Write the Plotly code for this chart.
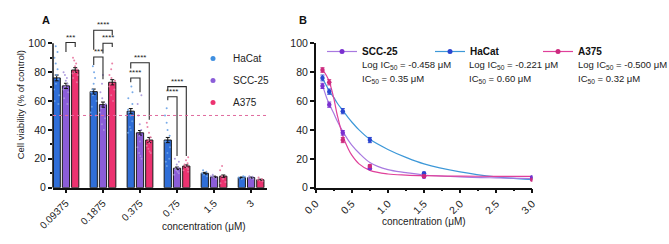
import plotly.graph_objects as go

# ---------------- data ----------------
concentration_labels = ["0.09375", "0.1875", "0.375", "0.75", "1.5", "3"]
concentration_values = [0.09375, 0.1875, 0.375, 0.75, 1.5, 3.0]
cell_lines = ["HaCat", "SCC-25", "A375"]

hacat_mean = [76, 66.5, 53, 33, 10, 7]
scc25_mean = [70.5, 57.5, 38, 13.5, 7.5, 7]
a375_mean = [81.5, 73, 33, 15, 8, 5.5]

hacat_sem = [2.0, 1.8, 1.8, 1.8, 0.6, 0.4]
scc25_sem = [1.8, 1.8, 1.6, 0.8, 0.5, 0.4]
a375_sem = [1.6, 1.8, 1.8, 0.8, 0.8, 0.4]

# individual replicate values
hacat_points = [
    [98, 94, 90, 86, 82, 78, 75, 72, 68, 64, 60, 58],
    [84, 80, 76, 72, 68, 66, 64, 60, 56, 52, 50],
    [70, 66, 62, 58, 54, 52, 50, 46, 42, 38, 40],
    [55, 50, 45, 40, 36, 32, 28, 24, 20, 18, 15],
    [12, 11, 10, 9, 8],
    [8, 7.5, 7, 6.5, 6],
]
scc25_points = [
    [80, 78, 76, 74, 72, 70, 68, 66, 62, 58],
    [78, 72, 66, 62, 58, 55, 52, 48, 44, 40],
    [64, 58, 50, 44, 40, 36, 32, 28, 24, 20, 22],
    [20, 18, 16, 14, 13, 12, 11, 10, 9],
    [9, 8, 7.5, 7, 6],
    [8, 7.5, 7, 6.5, 6],
]
a375_points = [
    [90, 88, 86, 84, 82, 80, 79, 78, 76, 73],
    [86, 82, 78, 76, 74, 72, 70, 68, 64, 60],
    [45, 42, 38, 35, 33, 31, 29, 27, 25, 24],
    [21, 19, 17, 16, 15, 14, 13, 12, 11],
    [15, 12, 8, 6, 4, 3],
    [7, 6, 5.5, 5, 4.5],
]

# significance brackets: (group, bar_from, bar_to, top, left_end, right_end, label)
brackets = [
    (0, 1, 2, 100.5, 94, 97.5, "***"),
    (1, 0, 2, 109, 95.5, 105.5, "****"),
    (1, 1, 2, 100, 93, 97.5, "****"),
    (1, 0, 1, 90.5, 85, 75, "***"),
    (2, 0, 2, 86.5, 82.5, 47, "****"),
    (2, 0, 1, 76, 73, 66, "****"),
    (3, 0, 2, 70, 67.5, 22, "****"),
    (3, 0, 1, 63, 60.5, 22, "****"),
]

# panel B: fitted curves
curve_x = [0.09375, 0.15, 0.1875, 0.25, 0.3, 0.375, 0.45, 0.5, 0.6, 0.75,
           1.0, 1.25, 1.5, 2.0, 2.5, 3.0]
hacat_curve = [76, 70.5, 67, 62.5, 58.5, 53.5, 48.5, 45.5, 40, 33.5,
               26.5, 21, 16.5, 11, 7.5, 5.5]
scc25_curve = [71, 62.5, 58, 51.5, 46, 39, 33, 29.5, 24, 17.5,
               12.5, 10.5, 8.8, 7.5, 6.8, 6.3]
a375_curve = [82, 77.5, 73.5, 62, 50, 36, 27, 22.5, 16.5, 12,
              9.5, 8.7, 8.3, 8.0, 7.9, 7.8]

ic50_text = {
    "SCC-25": ("-0.458", "0.35"),
    "HaCat": ("-0.221", "0.60"),
    "A375": ("-0.500", "0.32"),
}

# ---------------- style ----------------
FONT = "Liberation Sans, Arial, Helvetica, sans-serif"
BAR_COLORS = {"HaCat": "#2f6ed8", "SCC-25": "#8b5dd8", "A375": "#ec3270"}
DOT_COLORS = {"HaCat": "#6aa2e6", "SCC-25": "#a795dc", "A375": "#e8769f"}
LEG_COLORS = {"HaCat": "#3f8fe0", "SCC-25": "#8b5dd8", "A375": "#ec3270"}
PT_COLORS = {"HaCat": "#2a45d0", "SCC-25": "#7a2fd0", "A375": "#cc2a7e"}
CURVE_COLORS = {"HaCat": "#3d98d8", "SCC-25": "#a879e0", "A375": "#e0409a"}
BARGAP = 0.25
BARGROUPGAP = 0.22

W, H = 669, 244
def px_x(p):
    return p / W
def px_y(p):
    return (H - p) / H

fig = go.Figure()

means = {"HaCat": hacat_mean, "SCC-25": scc25_mean, "A375": a375_mean}
sems = {"HaCat": hacat_sem, "SCC-25": scc25_sem, "A375": a375_sem}
points = {"HaCat": hacat_points, "SCC-25": scc25_points, "A375": a375_points}
x_idx = list(range(len(concentration_labels)))

for name in cell_lines:
    fig.add_trace(go.Bar(
        x=x_idx, y=means[name], name=name, showlegend=False,
        marker=dict(color=BAR_COLORS[name], line=dict(color="#1a1a1a", width=1)),
        error_y=dict(type="data", array=sems[name], color="#111", thickness=1, width=2),
        xaxis="x", yaxis="y", hoverinfo="skip",
    ))

for name in cell_lines:
    bx = [i for i, pts in enumerate(points[name]) for _ in pts]
    by = [v for pts in points[name] for v in pts]
    fig.add_trace(go.Box(
        x=bx, y=by, name=name, showlegend=False, boxpoints="all", jitter=0.9,
        pointpos=0, fillcolor="rgba(0,0,0,0)", line=dict(width=0, color="rgba(0,0,0,0)"),
        marker=dict(color=DOT_COLORS[name], size=2, opacity=0.9),
        xaxis="x", yaxis="y", hoverinfo="skip",
    ))

# legend A (marker-only entries)
for name in cell_lines:
    fig.add_trace(go.Scatter(
        x=[None], y=[None], mode="markers", name=name, legend="legend",
        legendgroup=name,
        marker=dict(color=LEG_COLORS[name], size=5), xaxis="x", yaxis="y",
    ))

# panel B
curves = {"HaCat": hacat_curve, "SCC-25": scc25_curve, "A375": a375_curve}
for name in cell_lines:
    fig.add_trace(go.Scatter(
        x=curve_x, y=curves[name], mode="lines", line=dict(color=CURVE_COLORS[name], width=1.2, shape="spline"),
        showlegend=False, xaxis="x2", yaxis="y2", hoverinfo="skip",
    ))
for name in cell_lines:
    fig.add_trace(go.Scatter(
        x=concentration_values, y=means[name], mode="markers",
        marker=dict(color=PT_COLORS[name], size=4.5),
        error_y=dict(type="data", array=sems[name], color=PT_COLORS[name], thickness=1, width=2),
        showlegend=False, xaxis="x2", yaxis="y2", hoverinfo="skip",
    ))
for name in ["SCC-25", "HaCat", "A375"]:
    fig.add_trace(go.Scatter(
        x=[None], y=[None], mode="lines+markers", name=f"<b>{name}</b>", legend="legend2",
        line=dict(color=CURVE_COLORS[name], width=1.2),
        marker=dict(color=PT_COLORS[name], size=5), xaxis="x2", yaxis="y2",
    ))

# ---------------- shapes & annotations ----------------
slot = (1 - BARGAP) / 3
def bar_x(g, k):
    return g + (k - 1) * slot

shapes = []
annotations = []
for g, a, b, top, le, re, lab in brackets:
    x0, x1 = bar_x(g, a), bar_x(g, b)
    shapes.append(dict(type="path", xref="x", yref="y",
                       path=f"M {x0},{le} L {x0},{top} L {x1},{top} L {x1},{re}",
                       line=dict(color="#2a2a2a", width=1.1)))
    annotations.append(dict(x=(x0 + x1) / 2, y=top, xref="x", yref="y", text=lab,
                            showarrow=False, yanchor="bottom", yshift=-1,
                            font=dict(family=FONT, size=8, color="#222")))

# y axis line of panel A (only 0-100)
shapes.append(dict(type="line", xref="x domain", yref="y", x0=0, x1=0, y0=0, y1=100,
                   line=dict(color="#111", width=1.5)))
# 50% reference line
shapes.append(dict(type="line", xref="x domain", yref="y", x0=0, x1=1, y0=50, y1=50,
                   line=dict(color="#e06a9e", width=1, dash="dot")))

annotations.append(dict(x=px_x(40), y=px_y(12), xref="paper", yref="paper", text="<b>A</b>",
                        showarrow=False, font=dict(family=FONT, size=11, color="#111")))
annotations.append(dict(x=px_x(303), y=px_y(12), xref="paper", yref="paper", text="<b>B</b>",
                        showarrow=False, font=dict(family=FONT, size=11, color="#111")))

# x axis titles
annotations.append(dict(x=px_x(160), y=px_y(226), xref="paper", yref="paper",
                        text="concentration (\u03bcM)", showarrow=False, yanchor="middle",
                        font=dict(family=FONT, size=10, color="#222")))
annotations.append(dict(x=px_x(424), y=px_y(221), xref="paper", yref="paper",
                        text="concentration (\u03bcM)", showarrow=False, yanchor="middle",
                        font=dict(family=FONT, size=10, color="#222")))

ic_x = {"SCC-25": 360, "HaCat": 467, "A375": 576}
for name in ["SCC-25", "HaCat", "A375"]:
    lg, ic = ic50_text[name]
    annotations.append(dict(x=px_x(ic_x[name]), y=px_y(65), xref="paper", yref="paper",
                            xanchor="left", yanchor="middle", showarrow=False,
                            text=f"Log IC<sub>50</sub> = {lg} \u03bcM",
                            font=dict(family=FONT, size=9.5, color="#222")))
    annotations.append(dict(x=px_x(ic_x[name]), y=px_y(79), xref="paper", yref="paper",
                            xanchor="left", yanchor="middle", showarrow=False,
                            text=f"IC<sub>50</sub> = {ic} \u03bcM",
                            font=dict(family=FONT, size=9.5, color="#222")))

axis_common = dict(showgrid=False, zeroline=False, ticks="outside", ticklen=4, tickwidth=1.5,
                   tickcolor="#111", linecolor="#111", linewidth=1.5, automargin=False,
                   tickfont=dict(family=FONT, size=10.5, color="#222"))

fig.update_layout(
    width=W, height=H, margin=dict(l=0, r=0, t=0, b=0, autoexpand=False),
    paper_bgcolor="white", plot_bgcolor="white",
    barmode="group", bargap=BARGAP, bargroupgap=BARGROUPGAP,
    boxmode="group", boxgap=BARGAP, boxgroupgap=BARGROUPGAP,
    font=dict(family=FONT, color="#222"),
    xaxis=dict(domain=[px_x(53), px_x(267)], range=[-0.35, 5.43], tickvals=x_idx,
               ticktext=concentration_labels, tickangle=-45, showline=True,
               **{**axis_common, "tickfont": dict(family=FONT, size=10, color="#222")}),
    yaxis=dict(domain=[px_y(187.7), px_y(21.6)], range=[0, 115], tickvals=[0, 20, 40, 60, 80, 100],
               showline=False,
               minor=dict(tickvals=[10, 30, 50, 70, 90], ticklen=2, tickwidth=1.5, tickcolor="#111", ticks="outside"),
               title=dict(text="Cell viability (% of control)", font=dict(family=FONT, size=9.5), standoff=2),
               **axis_common),
    xaxis2=dict(domain=[px_x(315.7), px_x(532.3)], range=[0, 3], tickvals=[0, 0.5, 1, 1.5, 2, 2.5, 3],
                tickformat=".1f", tickangle=-45, showline=True, anchor="y2",
                minor=dict(dtick=0.25, ticklen=2, tickwidth=1.5, tickcolor="#111", ticks="outside"),
                **{**axis_common, "tickfont": dict(family=FONT, size=10.5, color="#222")}),
    yaxis2=dict(domain=[px_y(187.7), px_y(43.3)], range=[0, 100], tickvals=[0, 20, 40, 60, 80, 100],
                showline=True, anchor="x2", **axis_common),
    legend=dict(x=px_x(193), y=px_y(44), xanchor="left", yanchor="top",
                font=dict(family=FONT, size=10, color="#222"), tracegroupgap=3,
                bgcolor="rgba(0,0,0,0)", itemwidth=30),
    legend2=dict(x=px_x(322), y=px_y(37), xanchor="left", yanchor="top", orientation="h",
                 entrywidth=63, font=dict(family=FONT, size=10, color="#111"),
                 bgcolor="rgba(0,0,0,0)", itemwidth=30),
    shapes=shapes, annotations=annotations,
)

fig.write_html("out.html", config={"displayModeBar": False},
               post_script="document.body.style.margin='0';document.body.style.overflow='hidden';")
